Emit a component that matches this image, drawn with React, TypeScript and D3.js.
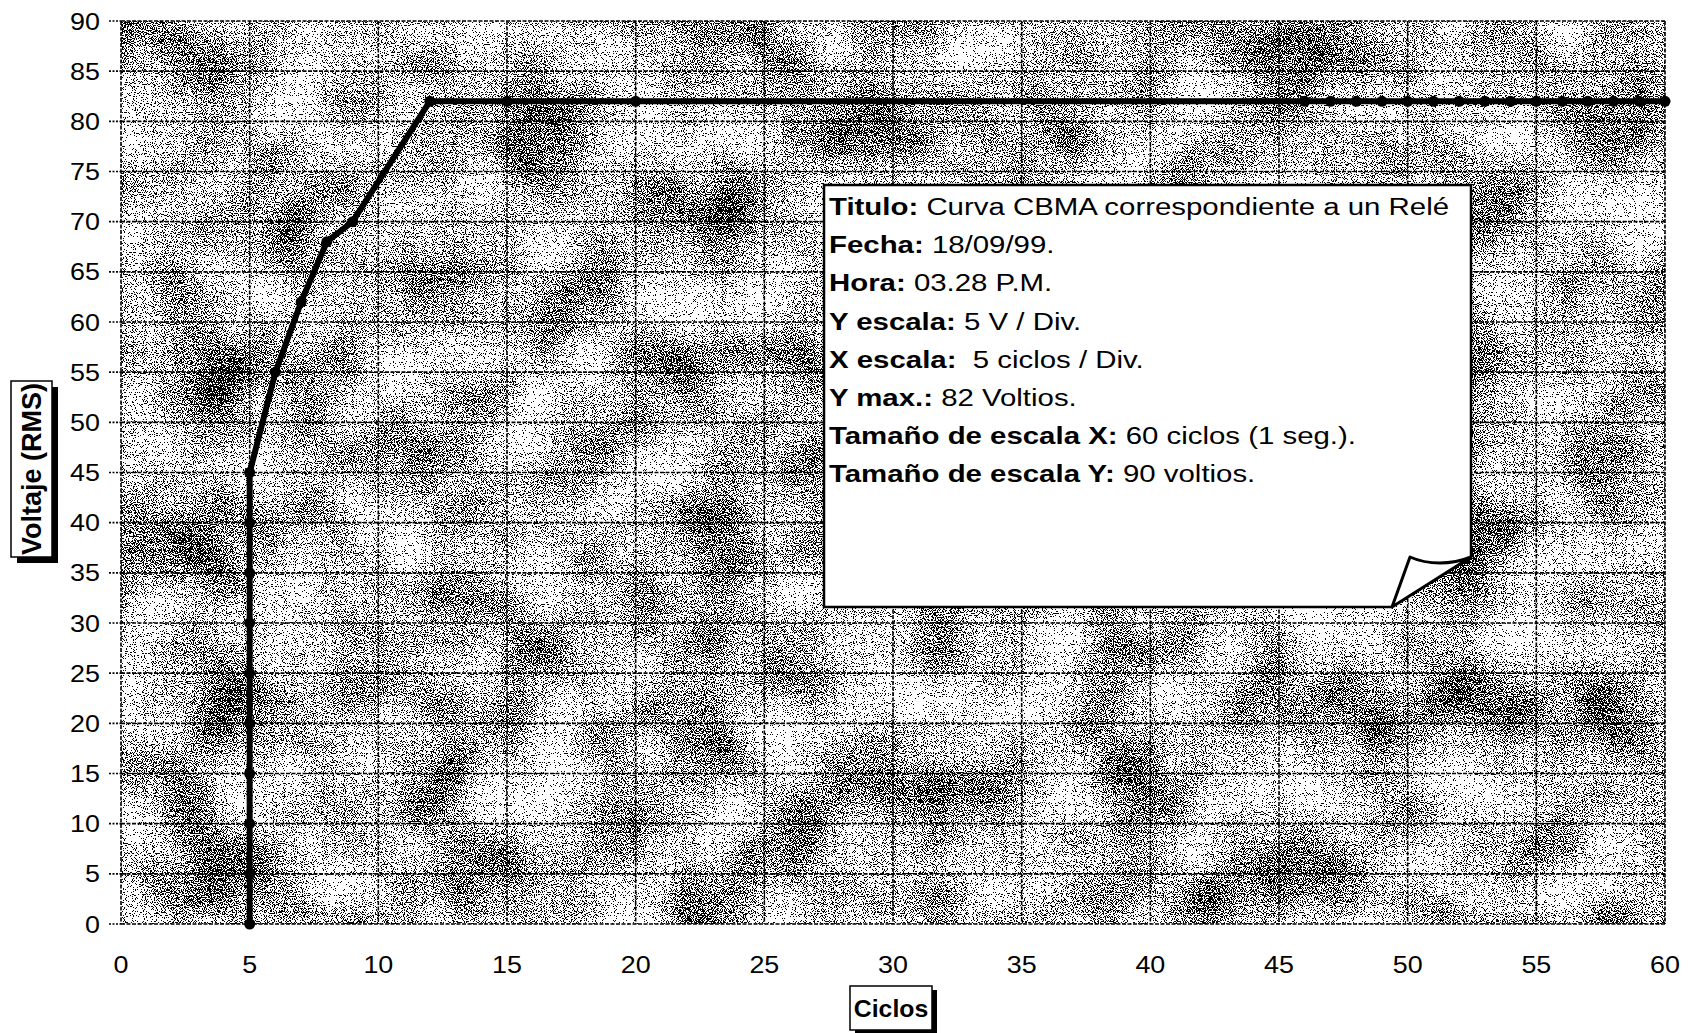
import React from "react";
import * as d3 from "d3";

// ---- data ----
const cycles = [5, 5, 5, 5, 5, 5, 5, 5, 5, 5, 6, 7, 8, 9, 12, 15, 20, 46, 47, 48, 49, 50, 51, 52, 53, 54, 55, 56, 57, 58, 59, 60];
const volts = [0, 5, 10, 15, 20, 25, 30, 35, 40, 45, 55, 62, 68, 70, 82, 82, 82, 82, 82, 82, 82, 82, 82, 82, 82, 82, 82, 82, 82, 82, 82, 82];
const xTickValues = [0, 5, 10, 15, 20, 25, 30, 35, 40, 45, 50, 55, 60];
const yTickValues = [0, 5, 10, 15, 20, 25, 30, 35, 40, 45, 50, 55, 60, 65, 70, 75, 80, 85, 90];
const xTitle = "Ciclos";
const yTitle = "Voltaje (RMS)";
const noteBold = ["Titulo:", "Fecha:", "Hora:", "Y escala:", "X escala:", "Y max.:", "Tamaño de escala X:", "Tamaño de escala Y:"];
const noteText = [" Curva CBMA correspondiente a un Relé", " 18/09/99.", " 03.28 P.M.", " 5 V / Div.", "  5 ciclos / Div.", " 82 Voltios.", " 60 ciclos (1 seg.).", " 90 voltios."];

const W = 1706;
const H = 1033;
const left = 121;
const right = 1665;
const top = 21;
const bottom = 924;
const FONT = "Arial, 'Liberation Sans', Helvetica, sans-serif";

export default function App() {
  const x = d3.scaleLinear().domain([0, 60]).range([left, right]);
  const y = d3.scaleLinear().domain([0, 90]).range([bottom, top]);
  const pts = cycles.map((c, i) => [c, volts[i]] as [number, number]);
  const line = d3
    .line<[number, number]>()
    .x((d) => x(d[0]))
    .y((d) => y(d[1]));

  const thr = Array.from({ length: 50 }, (_, i) => (i < 22 ? 0 : 1)).join(" ");

  const bx0 = 824, by0 = 185, bx1 = 1471, by1 = 607;
  const foldX = 1392, foldY = 557, flapX = 1410;

  return (
    <svg width={W} height={H} style={{ position: "absolute", left: 0, top: 0, background: "#fff" }} fontFamily={FONT}>
      <defs>
        <filter id="halftone" x="0" y="0" width="1" height="1" colorInterpolationFilters="sRGB">
          <feTurbulence type="fractalNoise" baseFrequency="0.9" numOctaves={1} seed={7} result="hiRaw" />
          <feColorMatrix in="hiRaw" type="matrix" values="1 0 0 0 0  1 0 0 0 0  1 0 0 0 0  0 0 0 0 1" result="hi" />
          <feTurbulence type="fractalNoise" baseFrequency="0.012" numOctaves={2} seed={11} result="loRaw" />
          <feColorMatrix in="loRaw" type="matrix" values="1 0 0 0 0  1 0 0 0 0  1 0 0 0 0  0 0 0 0 1" result="lo" />
          <feComposite in="hi" in2="lo" operator="arithmetic" k1="0" k2="1" k3="0.34" k4="-0.17" result="mix" />
          <feComponentTransfer in="mix">
            <feFuncR type="discrete" tableValues={thr} />
            <feFuncG type="discrete" tableValues={thr} />
            <feFuncB type="discrete" tableValues={thr} />
            <feFuncA type="linear" slope="0" intercept="1" />
          </feComponentTransfer>
        </filter>
      </defs>

      {/* plot background */}
      <rect x={left} y={top} width={right - left} height={bottom - top} fill="#fff" filter="url(#halftone)" />

      {/* grid */}
      <g stroke="#000" strokeWidth={1.6} strokeDasharray="4 1.5" fill="none">
        {yTickValues.map((v) => (
          <line key={"h" + v} x1={left} x2={right} y1={y(v)} y2={y(v)} />
        ))}
        {xTickValues.map((v) => (
          <line key={"v" + v} x1={x(v)} x2={x(v)} y1={top} y2={bottom} />
        ))}
        {yTickValues.map((v) => (
          <line key={"t" + v} x1={left - 12} x2={left} y1={y(v)} y2={y(v)} strokeDasharray="2 1.5" />
        ))}
      </g>

      {/* tick labels */}
      <g fontSize={24} fill="#000">
        {yTickValues.map((v) => (
          <text key={"yl" + v} transform={`translate(100,${y(v)}) scale(1.12,1)`} textAnchor="end" dy="0.36em">
            {v}
          </text>
        ))}
        {xTickValues.map((v) => (
          <text key={"xl" + v} transform={`translate(${x(v)},${964}) scale(1.12,1)`} textAnchor="middle" dy="0.36em">
            {v}
          </text>
        ))}
      </g>

      {/* data line */}
      <path d={line(pts) || ""} fill="none" stroke="#000" strokeWidth={6} strokeLinejoin="round" />
      <g fill="#000">
        {pts.map((p, i) => (
          <circle key={"p" + i} cx={x(p[0])} cy={y(p[1])} r={5.5} />
        ))}
      </g>

      {/* annotation note */}
      <path d={`M${bx0},${by0} H${bx1} V${foldY} L${foldX},${by1} H${bx0} Z`} fill="#fff" stroke="none" />
      <path d={`M${foldX},${by1} H${bx0} V${by0} H${bx1} V${foldY}`} fill="none" stroke="#000" strokeWidth={2.5} />
      <path
        d={`M${bx1},${foldY} C${bx1 - 20},${foldY + 8} ${flapX + 18},${foldY + 8} ${flapX},${foldY} L${foldX},${by1} L${bx1},${foldY} Z`}
        fill="#fff"
        stroke="#000"
        strokeWidth={3}
        strokeLinejoin="round"
      />
      <g fontSize={24.5} fill="#000">
        {noteBold.map((b, i) => (
          <text key={"n" + i} transform={`translate(829,${215 + i * 38.2}) scale(1.2,1)`} style={{ whiteSpace: "pre" }}>
            <tspan fontWeight="bold">{b}</tspan>
            <tspan>{noteText[i]}</tspan>
          </text>
        ))}
      </g>

      {/* y axis title */}
      <rect x={17} y={387} width={41} height={176} fill="#000" />
      <rect x={11} y={381} width={41} height={176} fill="#fff" stroke="#000" strokeWidth={1.5} />
      <text
        transform={`translate(32,469) rotate(-90)`}
        textAnchor="middle"
        dominantBaseline="central"
        fontSize={27}
        fontWeight="bold"
        fill="#000"
      >
        {yTitle}
      </text>

      {/* x axis title */}
      <rect x={855} y={990} width={82} height={44} fill="#000" />
      <rect x={850} y={986} width={82} height={44} fill="#fff" stroke="#000" strokeWidth={1.5} />
      <text
        transform={`translate(891,1009) scale(1.08,1)`}
        textAnchor="middle"
        dominantBaseline="central"
        fontSize={23}
        fontWeight="bold"
        fill="#000"
      >
        {xTitle}
      </text>
    </svg>
  );
}
